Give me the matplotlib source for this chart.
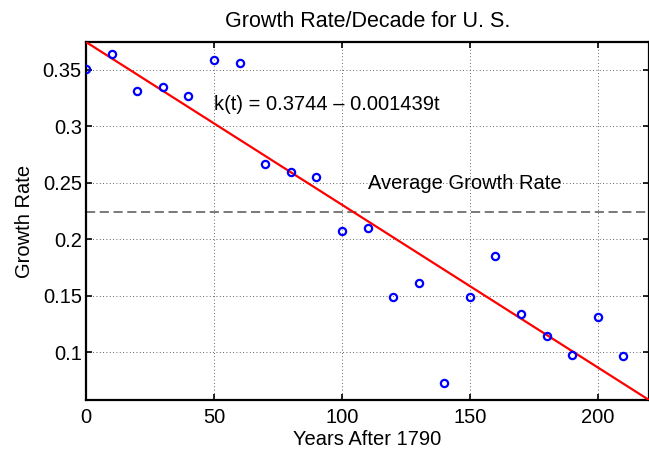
import matplotlib
matplotlib.use("Agg")
import matplotlib.pyplot as plt
import numpy as np

plt.rcParams['font.family'] = ['Liberation Sans', 'DejaVu Sans']

years = [0, 10, 20, 30, 40, 50, 60, 70, 80, 90, 100, 110, 120, 130, 140, 150,
         160, 170, 180, 190, 200, 210]
growth = [0.3508, 0.3638, 0.3314, 0.3349, 0.3267, 0.3588, 0.3555, 0.2668,
          0.2598, 0.2553, 0.2076, 0.2103, 0.1493, 0.1617, 0.0727, 0.1493,
          0.1850, 0.1337, 0.1145, 0.0980, 0.1316, 0.0971]
intercept = 0.3744
slope = -0.001439
avg_rate = 0.2238
x_max = 220

fig = plt.figure(figsize=(6.49, 4.49), dpi=100)
ax = fig.add_axes([86/649, 49/449, 563/649, 358/449])

t = np.array([0, x_max])
ax.plot(t, intercept + slope * t, color='red', lw=1.6, zorder=3)
ax.plot(years, growth, 'o', mfc='none', mec='blue', ms=5.2, mew=1.6, zorder=4)
ax.axhline(avg_rate, color='#555555', lw=1.1, ls=(0, (6, 3)), zorder=2)

ax.set_xlim(0, x_max)
ax.set_ylim(intercept + slope * x_max, intercept)
ax.set_xticks([0, 50, 100, 150, 200])
ax.set_yticks([0.1, 0.15, 0.2, 0.25, 0.3, 0.35])
ax.set_yticklabels(['0.1', '0.15', '0.2', '0.25', '0.3', '0.35'])
ax.grid(True, ls=(0, (1, 3)), color='#333333', lw=0.6)
ax.tick_params(direction='in', top=True, right=True, length=4, width=1.2,
               labelsize=14.5)
ax.tick_params(axis='x', pad=6)
ax.tick_params(axis='y', pad=3)
for s in ax.spines.values():
    s.set_linewidth(1.6)

ax.text(50, 0.319, 'k(t) = 0.3744 \u2013 0.001439t', fontsize=14.5, va='center', ha='left')
ax.text(110, 0.2495, 'Average Growth Rate', fontsize=14.5, va='center', ha='left')

ax.set_title('Growth Rate/Decade for U. S.', fontsize=15.5, pad=11)
ax.set_xlabel('Years After 1790', fontsize=14.5, labelpad=2)
ax.set_ylabel('Growth Rate', fontsize=14.5, labelpad=6)

fig.savefig('out.png', dpi=100)
